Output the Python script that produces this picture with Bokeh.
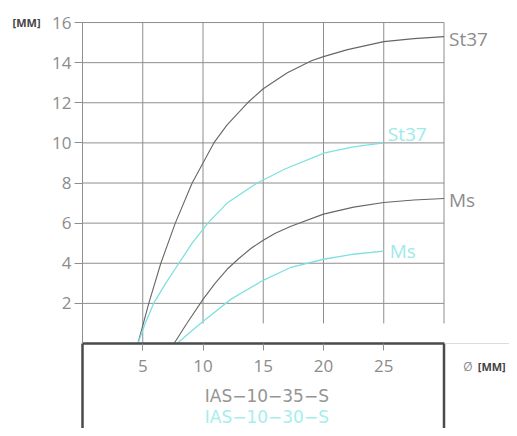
from bokeh.plotting import figure
from bokeh.models import Range1d, FixedTicker, LinearAxis
from bokeh.core.properties import value
from bokeh.embed import file_html
from bokeh.resources import INLINE

# ---- data ----
st37_dark_x = [4.6, 5.5, 6.5, 7.7, 9.1, 10.0, 10.9, 12.0, 13.7, 15.0, 17.0, 19.0, 20.0, 22.0, 25.0, 27.5, 30.0]
st37_dark_y = [0.0, 2.0, 4.0, 6.0, 8.0, 9.0, 10.0, 10.9, 12.0, 12.7, 13.5, 14.1, 14.3, 14.65, 15.05, 15.2, 15.3]

st37_cyan_x = [4.6, 5.2, 5.9, 6.9, 8.0, 9.1, 10.4, 12.0, 14.5, 16.8, 20.1, 22.5, 25.0]
st37_cyan_y = [0.0, 1.0, 2.0, 3.0, 4.0, 5.0, 6.0, 7.0, 8.0, 8.7, 9.5, 9.8, 10.0]

ms_dark_x = [7.6, 8.6, 10.0, 11.0, 12.0, 13.0, 14.0, 15.0, 16.0, 17.3, 20.0, 22.5, 25.0, 27.5, 30.0]
ms_dark_y = [0.0, 0.95, 2.2, 3.0, 3.7, 4.25, 4.75, 5.15, 5.5, 5.85, 6.45, 6.8, 7.03, 7.15, 7.23]

ms_cyan_x = [7.85, 9.0, 10.0, 12.3, 15.0, 17.3, 20.0, 22.5, 25.0]
ms_cyan_y = [0.0, 0.6, 1.1, 2.2, 3.15, 3.8, 4.2, 4.45, 4.6]

curve_labels = ["St37", "St37", "Ms", "Ms"]
y_ticks = [2, 4, 6, 8, 10, 12, 14, 16]
x_ticks = [5, 10, 15, 20, 25]
grid_x = [5, 10, 15, 20, 25, 30]
x_max = 30
y_max = 16
type_dark = "IAS−10−35−S"
type_cyan = "IAS−10−30−S"
unit_y = "[MM]"
unit_x_symbol = "Ø"
unit_x = "[MM]"

# ---- styling ----
DARK = "#666666"
CYAN = "#7fe0e0"
CYAN_TXT = "#9ceaea"
GRID = "#8e8e8e"
TXT = "#8c8c8c"
BOX = "#4a4a4a"
FONT = "Open Sans"
WIDE_FONT = "DejaVu Sans"

W, H = 509, 428
ORIGIN_X, ORIGIN_Y = 82.0, 343.0     # pixel position of (0, 0)
ppu_x = 12.05
ppu_y = 20.06
x0 = -ORIGIN_X / ppu_x
x1 = x0 + W / ppu_x
ytop = ORIGIN_Y / ppu_y
ybot = ytop - H / ppu_y

p = figure(width=W, height=H, output_backend="svg", toolbar_location=None,
           x_axis_location=None, y_axis_location=None,
           x_range=Range1d(x0, x1), y_range=Range1d(ybot, ytop),
           min_border_left=0, min_border_right=0, min_border_top=0, min_border_bottom=0)
p.outline_line_color = None
p.grid.visible = False
p.background_fill_color = "white"
p.border_fill_color = "white"

# y axis placed on x = 0
ya = LinearAxis(fixed_location=0, ticker=FixedTicker(ticks=y_ticks), bounds=(0, y_max))
ya.axis_line_color = GRID
ya.major_tick_line_color = GRID
ya.major_tick_out = 8
ya.major_tick_in = 0
ya.minor_tick_line_color = None
ya.major_label_text_font = FONT
ya.major_label_text_font_size = "17px"
ya.major_label_text_color = TXT
ya.major_label_standoff = 3
p.add_layout(ya, "left")

# horizontal grid lines
p.segment(x0=[0] * len(y_ticks), x1=[x_max] * len(y_ticks), y0=y_ticks, y1=y_ticks,
          line_color=GRID, line_width=1)
# vertical grid lines (x=5 reaches the axis, others stop at 1)
gy0 = [0 if g == 5 else 1 for g in grid_x]
p.segment(x0=grid_x, x1=grid_x, y0=gy0, y1=[y_max] * len(grid_x), line_color=GRID, line_width=1)

# curves
p.line(st37_dark_x, st37_dark_y, line_color=DARK, line_width=1.1)
p.line(ms_dark_x, ms_dark_y, line_color=DARK, line_width=1.1)
p.line(st37_cyan_x, st37_cyan_y, line_color=CYAN, line_width=1.3)
p.line(ms_cyan_x, ms_cyan_y, line_color=CYAN, line_width=1.3)

# curve end labels
ends_x = [st37_dark_x[-1], st37_cyan_x[-1], ms_dark_x[-1], ms_cyan_x[-1]]
ends_y = [st37_dark_y[-1], st37_cyan_y[-1], ms_dark_y[-1], ms_cyan_y[-1]]
cols = [TXT, CYAN_TXT, TXT, CYAN_TXT]
xo = [5, 4, 5, 6]
yo = [2, -9, 2, 0]
for i in range(4):
    p.text(x=[ends_x[i]], y=[ends_y[i]], text=[curve_labels[i]], x_offset=xo[i], y_offset=yo[i],
           text_font=value(FONT), text_font_size="19px", text_color=cols[i],
           text_align="left", text_baseline="middle")

# box below the chart (sides), faint continuation line on the right
p.segment(x0=[0, x_max], x1=[0, x_max], y0=[0, 0], y1=[ybot, ybot],
          line_color=BOX, line_width=2.5)
p.segment(x0=[x_max], x1=[x1], y0=[0], y1=[0], line_color="#dcdcdc", line_width=1)

# x axis placed on y = 0 (top edge of the box)
xa = LinearAxis(fixed_location=0, ticker=FixedTicker(ticks=x_ticks), bounds=(0, x_max))
xa.axis_line_color = BOX
xa.axis_line_width = 2.5
xa.major_tick_line_color = GRID
xa.major_tick_out = 7
xa.major_tick_in = 0
xa.minor_tick_line_color = None
xa.major_label_text_font = FONT
xa.major_label_text_font_size = "17px"
xa.major_label_text_color = TXT
xa.major_label_standoff = 9
p.add_layout(xa, "below")

p.text(x=[15.3], y=[-2.6], text=[type_dark], text_font=value(WIDE_FONT), text_font_size="17px",
       text_color="#959595", text_align="center", text_baseline="middle")
p.text(x=[15.3], y=[-3.65], text=[type_cyan], text_font=value(WIDE_FONT), text_font_size="17px",
       text_color="#a6eeee", text_align="center", text_baseline="middle")

# axis unit texts
p.text(x=[31.6], y=[-1.15], text=[unit_x_symbol], text_font=value(FONT), text_font_size="12px",
       text_color=TXT, text_align="left", text_baseline="middle")
p.text(x=[32.8], y=[-1.15], text=[unit_x], text_font=value(FONT), text_font_size="11px",
       text_font_style="bold", text_color="#444444", text_align="left", text_baseline="middle")
p.text(x=[-5.8], y=[16], text=[unit_y], text_font=value(FONT), text_font_size="11px",
       text_font_style="bold", text_color="#444444", text_align="left", text_baseline="middle")

open("out.html", "w").write(file_html(p, INLINE))
